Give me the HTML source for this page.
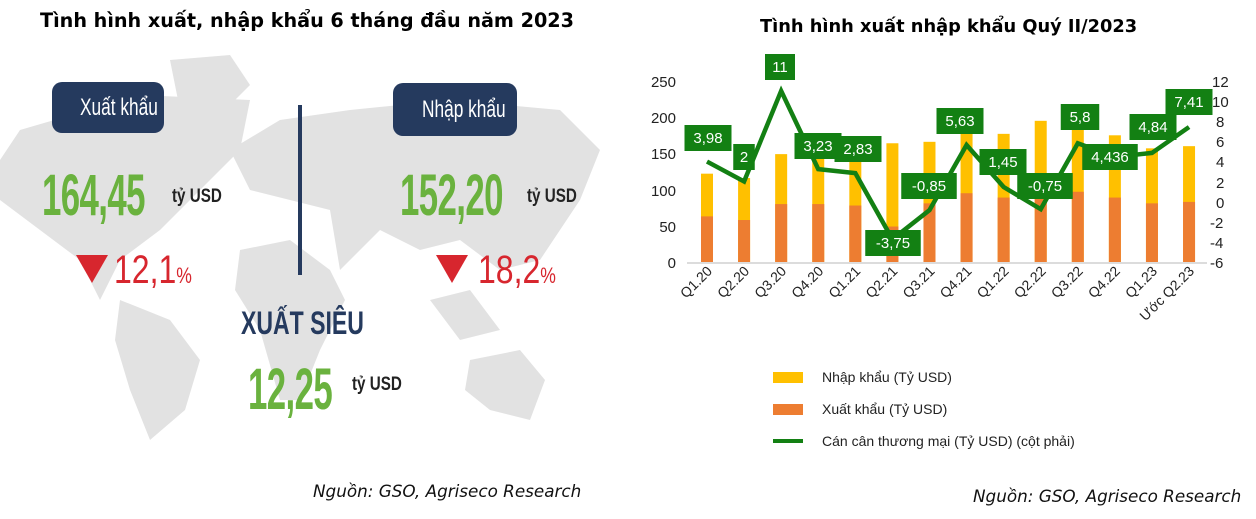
<!DOCTYPE html>
<html><head><meta charset="utf-8"><style>
body{margin:0;width:1256px;height:519px;background:#fff;overflow:hidden;position:relative;font-family:"Liberation Sans",sans-serif}
.a{position:absolute;white-space:nowrap}
.num{font-family:"Liberation Sans Narrow","Liberation Sans",sans-serif;font-weight:bold;color:#6ab23e;transform-origin:0 0;transform:scaleX(0.6);letter-spacing:-1px}
.usd{font-weight:bold;font-size:19px;color:#222;transform-origin:0 0;transform:scaleX(0.8)}
.pct{color:#d7262e;font-size:40px;transform-origin:0 0;transform:scaleX(0.8)}
.src{font-family:"DejaVu Sans",sans-serif;font-style:italic;font-size:16.8px;color:#111}
</style></head><body>
<svg class="a" style="left:0;top:0" width="620" height="519">
<g fill="#e2e2e2">
<path d="M20,130 L140,95 L250,100 L240,150 L200,190 L160,230 L120,260 L100,300 L80,260 L40,230 L0,200 L0,160 Z"/>
<path d="M170,60 L230,55 L250,85 L215,120 L180,110 Z"/>
<path d="M120,300 L170,320 L200,360 L185,410 L150,440 L130,390 L115,340 Z"/>
<path d="M230,150 L280,120 L350,110 L450,100 L560,110 L600,150 L580,200 L540,260 L500,270 L460,240 L420,250 L380,230 L340,270 L330,210 L290,200 L250,190 Z"/>
<path d="M240,250 L290,240 L330,270 L345,300 L320,350 L300,400 L280,400 L260,330 L235,290 Z"/>
<path d="M470,360 L520,350 L545,380 L530,420 L490,410 L465,390 Z"/>
<path d="M430,300 L470,290 L500,330 L460,340 Z"/>
</g>
<rect x="52" y="82" width="112" height="51" rx="10" fill="#253a5e"/>
<rect x="393" y="83" width="124" height="53" rx="10" fill="#253a5e"/>
<rect x="298" y="105" width="4" height="170" fill="#253a5e"/>
<polygon points="76,255 108,255 92,283" fill="#d7262e"/>
<polygon points="436,255 468,255 452,283" fill="#d7262e"/>
</svg>
<div class="a" style="left:40px;top:9px;font-family:'DejaVu Sans',sans-serif;font-weight:bold;font-size:19.2px;color:#000">Tình hình xuất, nhập khẩu 6 tháng đầu năm 2023</div>
<div class="a" style="left:80px;top:94px;font-size:24px;color:#fff;transform:scaleX(0.72);transform-origin:0 0">Xuất khẩu</div>
<div class="a" style="left:422px;top:96px;font-size:24px;color:#fff;transform:scaleX(0.72);transform-origin:0 0">Nhập khẩu</div>
<div class="a num" style="left:42px;top:162px;font-size:58px">164,45</div>
<div class="a num" style="left:400px;top:162px;font-size:58px">152,20</div>
<div class="a num" style="left:248px;top:356px;font-size:58px">12,25</div>
<div class="a usd" style="left:172px;top:186px">tỷ USD</div>
<div class="a usd" style="left:527px;top:186px">tỷ USD</div>
<div class="a usd" style="left:352px;top:374px">tỷ USD</div>
<div class="a pct" style="left:114px;top:248px">12,1<span style="font-size:22px">%</span></div>
<div class="a pct" style="left:478px;top:248px">18,2<span style="font-size:22px">%</span></div>
<div class="a" style="left:241px;top:305px;font-weight:bold;font-size:32px;color:#253a5e;transform:scaleX(0.72);transform-origin:0 0">XUẤT SIÊU</div>
<div class="a src" style="left:313px;top:481px">Nguồn: GSO, Agriseco Research</div>
<div class="a src" style="left:973px;top:486px">Nguồn: GSO, Agriseco Research</div>
<div class="a" style="left:760px;top:16px;font-family:'DejaVu Sans',sans-serif;font-weight:bold;font-size:17.8px;color:#000">Tình hình xuất nhập khẩu Quý II/2023</div>

<svg class="a" style="left:0;top:0" width="1256" height="519" font-family="Liberation Sans, sans-serif">
<g font-size="15" fill="#222" text-anchor="end">
<text x="676" y="87">250</text><text x="676" y="123">200</text><text x="676" y="159">150</text><text x="676" y="196">100</text><text x="676" y="232">50</text><text x="676" y="268">0</text>
</g>
<g font-size="15" fill="#222" text-anchor="start">
<text x="1212" y="87">12</text><text x="1212" y="107">10</text><text x="1216" y="127">8</text><text x="1216" y="147">6</text><text x="1216" y="167">4</text><text x="1216" y="188">2</text><text x="1216" y="208">0</text><text x="1210" y="228">-2</text><text x="1210" y="248">-4</text><text x="1210" y="268">-6</text>
</g>
<g id="bars"></g>
<line x1="687" y1="263" x2="1207" y2="263" stroke="#d0d0d0" stroke-width="1.5"/>
<polyline id="ln" fill="none" stroke="#138013" stroke-width="4.5" stroke-linejoin="miter"/>
<g id="lbl"></g>
<g id="xl" font-size="14" fill="#222"></g>
<rect x="773" y="372" width="30" height="11" fill="#ffc000"/>
<rect x="773" y="404" width="30" height="11" fill="#ed7d31"/>
<line x1="773" y1="441" x2="803" y2="441" stroke="#138013" stroke-width="4"/>
<g font-size="14" fill="#222"><text x="822" y="382">Nhập khẩu (Tỷ USD)</text><text x="822" y="414">Xuất khẩu (Tỷ USD)</text><text x="822" y="446">Cán cân thương mại (Tỷ USD) (cột phải)</text></g>
</svg>
<script>
var ex=[63,58,80,80,78,49,81,95,89,90,97,89,81,83],tot=[122,116,149,155,155,164,166,183,177,195,187,175,157,160];
var bal=[3.98,2,11,3.23,2.83,-3.75,-0.85,5.63,1.45,-0.75,5.8,4.436,4.84,7.41];
var lab=["3,98","2","11","3,23","2,83","-3,75","-0,85","5,63","1,45","-0,75","5,8","4,436","4,84","7,41"];
var lp=[[708,138],[744,157],[780,67],[818,146],[858,149],[893,243],[929,186],[960,121],[1003,162],[1045,186],[1080,117],[1110,157],[1153,127],[1189,102]];
var xs=["Q1.20","Q2.20","Q3.20","Q4.20","Q1.21","Q2.21","Q3.21","Q4.21","Q1.22","Q2.22","Q3.22","Q4.22","Q1.23","Ước Q2.23"];
var ns="http://www.w3.org/2000/svg";function el(t,a,p){var e=document.createElementNS(ns,t);for(var k in a)e.setAttribute(k,a[k]);p.appendChild(e);return e}
var B=document.getElementById("bars"),L=document.getElementById("lbl"),X=document.getElementById("xl"),pts=[];
function yl(v){return 262-v*0.724}function yr(v){return 201.6-v*10.06}
for(var i=0;i<14;i++){var x=707+i*37.08;
el("rect",{x:x-6,y:yl(tot[i]),width:12,height:yl(0)-yl(tot[i]),fill:"#ffc000"},B);
el("rect",{x:x-6,y:yl(ex[i]),width:12,height:yl(0)-yl(ex[i]),fill:"#ed7d31"},B);
pts.push(x+","+yr(bal[i]));}
document.getElementById("ln").setAttribute("points",pts.join(" "));
for(var i=0;i<14;i++){var x=707+i*37.08;
var w=lab[i].length*8.5+13,c=lp[i];el("rect",{x:c[0]-w/2,y:c[1]-13,width:w,height:26,fill:"#138013"},L);
var t=el("text",{x:c[0],y:c[1]+5,"text-anchor":"middle","font-size":"15",fill:"#fff"},L);t.textContent=lab[i];
var tx=el("text",{x:0,y:0,"text-anchor":"end",transform:"translate("+(x+6)+",272) rotate(-45)"},X);tx.textContent=xs[i];}
</script>
</body></html>
